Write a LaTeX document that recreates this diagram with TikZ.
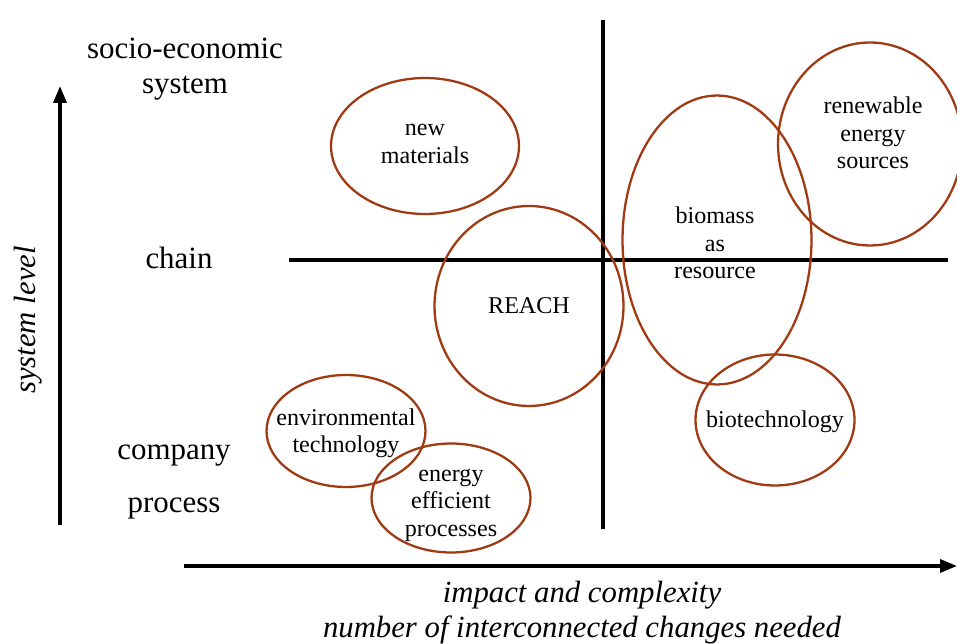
\documentclass[tikz,border=0pt]{standalone}
\usepackage{fontspec}
\setmainfont{Liberation Serif}
\usetikzlibrary{shapes.geometric,arrows.meta}
\definecolor{rust}{RGB}{160,58,18}
\begin{document}
\begin{tikzpicture}[x=0.02cm,y=-0.02cm,
  blob/.style={ellipse,draw=rust,line width=1.3pt,inner sep=0pt},
  btxt/.style={align=center,inner sep=0pt,font=\fontsize{13.7}{15.6}\selectfont},
  axis/.style={line width=2pt,-{Triangle[length=0.34cm,width=0.26cm]}},
  grid/.style={line width=2pt},
  lvl/.style={font=\fontsize{17.6}{20}\selectfont,align=center},
  axl/.style={font=\fontsize{17.5}{20}\selectfont\itshape,align=center,inner sep=0pt}]
\useasboundingbox (0,0) rectangle (957,644);
% axes
\coordinate (va) at (60,525);
\coordinate (vb) at (60,86);
\coordinate (ha) at (184,566);
\coordinate (hb) at (957,566);
\draw[axis] (va) -- (vb);
\draw[axis] (ha) -- (hb);
% quadrant lines
\coordinate (qa) at (603,20);
\coordinate (qb) at (603,529);
\coordinate (qc) at (289,260);
\coordinate (qd) at (948,260);
\draw[grid] (qa) -- (qb);
\draw[grid] (qc) -- (qd);
% level labels
\node[lvl] (soc) at (185,69) {socio-economic\\system};
\node[lvl] (chain) at (179,258) {chain};
\node[lvl] (comp) at (174,456) {company};
\node[lvl] (proc) at (174,509) {process};
\node[axl,rotate=90] (sl) at (28,320) {system level};
\node[axl] (imp) at (582,613) {impact and complexity\\number of interconnected changes needed};
% ellipses
\node[blob,minimum width=3.76cm,minimum height=2.72cm] (nm) at (425,146) {};
\node[blob,minimum width=3.78cm,minimum height=4.0cm] (reach) at (529,306) {};
\node[blob,minimum width=3.78cm,minimum height=5.78cm] (bio) at (717,240) {};
\node[blob,minimum width=3.68cm,minimum height=4.06cm] (ren) at (870,144) {};
\node[blob,minimum width=3.18cm,minimum height=2.62cm] (btech) at (775,420) {};
\node[blob,minimum width=3.18cm,minimum height=2.24cm] (env) at (346,431) {};
\node[blob,minimum width=3.18cm,minimum height=2.18cm] (eep) at (451,498) {};
% ellipse texts
\node[btxt] (nmt) at (425,144) {new\\materials};
\node[btxt] (reacht) at (529,306) {REACH};
\node[btxt] (biot) at (715,243) {biomass\\as\\resource};
\node[btxt] (rent) at (873,133) {renewable\\energy\\sources};
\node[btxt] (btecht) at (775,422) {biotechnology};
\node[btxt] (envt) at (346,433) {environmental\\technology};
\node[btxt] (eept) at (451,505) {energy\\efficient\\processes};
\end{tikzpicture}
\end{document}
